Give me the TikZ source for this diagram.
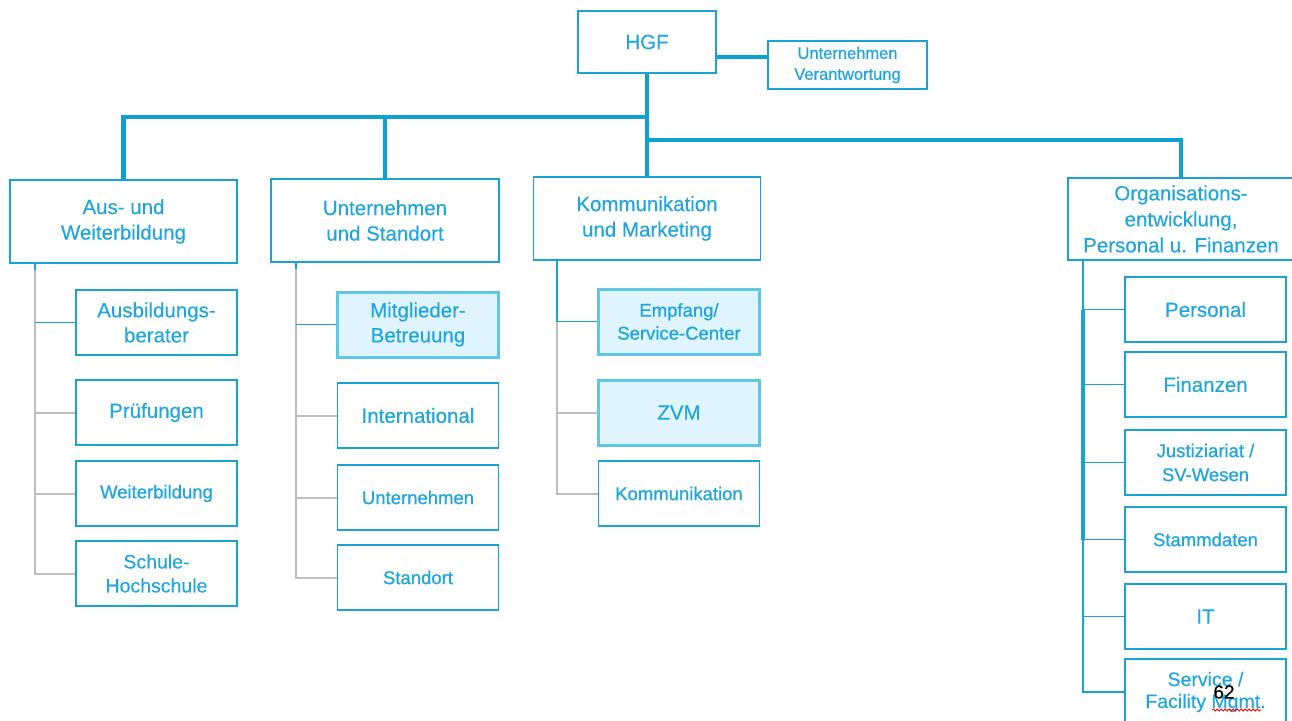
\documentclass[tikz,border=0pt]{standalone}
\usepackage{fontspec}
\setmainfont[FakeBold=0.25]{Liberation Sans}
\newfontfamily\heavysans[FakeBold=0.9]{Liberation Sans}
\usetikzlibrary{decorations.pathmorphing}

\definecolor{orgblue}{RGB}{14,160,210}
\definecolor{orgtext}{RGB}{32,166,222}
\definecolor{orgline}{RGB}{26,162,214}
\definecolor{orggray}{RGB}{190,190,190}
\definecolor{orgfill}{RGB}{223,244,252}
\definecolor{orgfillline}{RGB}{95,198,232}

\begin{document}
\begin{tikzpicture}[x=1pt,y=-1pt,
  box/.style={draw=orgline,line width=1.8pt,fill=white,text=orgtext,
    align=center,inner sep=0pt},
  headbox/.style={box,minimum width=227pt,minimum height=83pt,
    font=\fontsize{20.5}{25.5}\selectfont},
  subbox/.style={box,minimum width=161pt,minimum height=65pt,
    font=\fontsize{20.5}{25}\selectfont},
  heavybox/.style={subbox,font=\heavysans\fontsize{18.5}{24}\selectfont},
  litbox/.style={draw=orgfillline,line width=3pt,fill=orgfill},
  topline/.style={draw=orgblue,line width=4.5pt},
  thinblue/.style={draw=orgline,line width=1.8pt},
  thickblue/.style={draw=orgline,line width=3.5pt},
  grayline/.style={draw=orggray,line width=2pt}]

\useasboundingbox (0,0) rectangle (1292,720);

% top level
\node[box,minimum width=138pt,minimum height=62pt,
  font=\fontsize{20.5}{25}\selectfont] (HGF) at (647,42) {HGF};
\node[box,minimum width=159pt,minimum height=48pt,
  font=\heavysans\fontsize{16.5}{21}\selectfont] (UV) at (847.5,65)
  {Unternehmen\\Verantwortung};

% departments
\node[headbox] (Aus) at (123.5,221.5) {Aus- und\\Weiterbildung};
\node[headbox,minimum width=228pt] (UnS) at (385,220.5) {Unternehmen\\und Standort};
\node[headbox] (KuM) at (647,218.5) {Kommunikation\\und Marketing};
\node[headbox,minimum width=226pt,minimum height=82pt,
  font=\fontsize{20.5}{26}\selectfont] (Org) at (1181,219)
  {Organisations-\\entwicklung,\\Personal u. Finanzen};

% Aus- und Weiterbildung
\node[subbox] (AB) at (156.5,322.5) {Ausbildungs-\\berater};
\node[subbox] (PR) at (156.5,412.5) {Prüfungen};
\node[heavybox] (WB) at (156.5,493.5) {Weiterbildung};
\node[subbox,font=\fontsize{19.5}{24}\selectfont] (SH) at (156.5,573.5) {Schule-\\Hochschule};

% Unternehmen und Standort
\node[subbox,litbox] (MB) at (418,324.5) {Mitglieder-\\Betreuung};
\node[subbox] (IN) at (418,415.5) {International};
\node[heavybox] (UN) at (418,497.5) {Unternehmen};
\node[heavybox] (ST) at (418,577.5) {Standort};

% Kommunikation und Marketing
\node[heavybox,litbox,font=\heavysans\fontsize{18.5}{23}\selectfont] (EM) at (679,321.5) {Empfang/\\Service-Center};
\node[subbox,litbox] (ZV) at (679,412.5) {ZVM};
\node[heavybox] (KO) at (679,493.5) {Kommunikation};

% Organisationsentwicklung, Personal u. Finanzen
\node[subbox] (PE) at (1205.5,309.5) {Personal};
\node[subbox] (FI) at (1205.5,384.5) {Finanzen};
\node[heavybox] (JU) at (1205.5,462.5) {Justiziariat /\\SV-Wesen};
\node[heavybox] (SD) at (1205.5,539.5) {Stammdaten};
\node[subbox] (IT) at (1205.5,616.5) {IT};
\node[subbox,minimum height=66pt,font=\fontsize{19.5}{22}\selectfont] (SF) at (1205.5,692)
  {Service /\\Facility Mgmt.};

% main connectors
\coordinate (bar1) at (647,117);
\coordinate (bar2) at (647,140);
\draw[topline] (HGF.east |- 0,57) -- (UV.west |- 0,57);
\draw[topline] (HGF.south) -- (KuM.north);
\draw[topline] (Aus.north) |- (bar1);
\draw[topline] (UnS.north) -- (UnS.north |- bar1);
\draw[topline] (Org.north) |- (bar2);

% branch trunk, column 1
\coordinate (t1) at (35,0);
\draw[grayline] (t1 |- Aus.south) -- (t1 |- SH.west) -- (SH.west);
\draw[grayline] (t1 |- PR.west) -- (PR.west);
\draw[grayline] (t1 |- WB.west) -- (WB.west);
\draw[thinblue] (t1 |- Aus.south) -- ++(0,6);
\draw[thinblue] (t1 |- AB.west) -- (AB.west);

% branch trunk, column 2
\coordinate (t2) at (296,0);
\draw[grayline] (t2 |- UnS.south) -- (t2 |- ST.west) -- (ST.west);
\draw[grayline] (t2 |- IN.west) -- (IN.west);
\draw[grayline] (t2 |- UN.west) -- (UN.west);
\draw[thinblue] (t2 |- UnS.south) -- ++(0,6);
\draw[thinblue] (t2 |- MB.west) -- (MB.west);

% branch trunk, column 3
\coordinate (t3) at (557,0);
\draw[grayline] (t3 |- EM.west) -- (t3 |- KO.west) -- (KO.west);
\draw[grayline] (t3 |- ZV.west) -- (ZV.west);
\draw[thinblue] (t3 |- KuM.south) -- (t3 |- EM.west) -- (EM.west);

% branch trunk, column 4
\coordinate (t4) at (1083,0);
\draw[thinblue] (t4 |- Org.south) -- (t4 |- SF.west) -- (SF.west);
\draw[thickblue] (t4 |- PE.west) -- (t4 |- SD.west);
\foreach \n in {PE,FI,JU,SD,IT}
  \draw[thinblue] (t4 |- \n.west) -- (\n.west);

% page number and spell-check mark
\node[font=\fontsize{19}{19}\selectfont,text=black] (pg) at (1224,692) {62};
\draw[red,line width=0.8pt,decorate,
  decoration={snake,amplitude=1pt,segment length=4pt}]
  (1212,710) -- (1261,710);

\end{tikzpicture}
\end{document}
